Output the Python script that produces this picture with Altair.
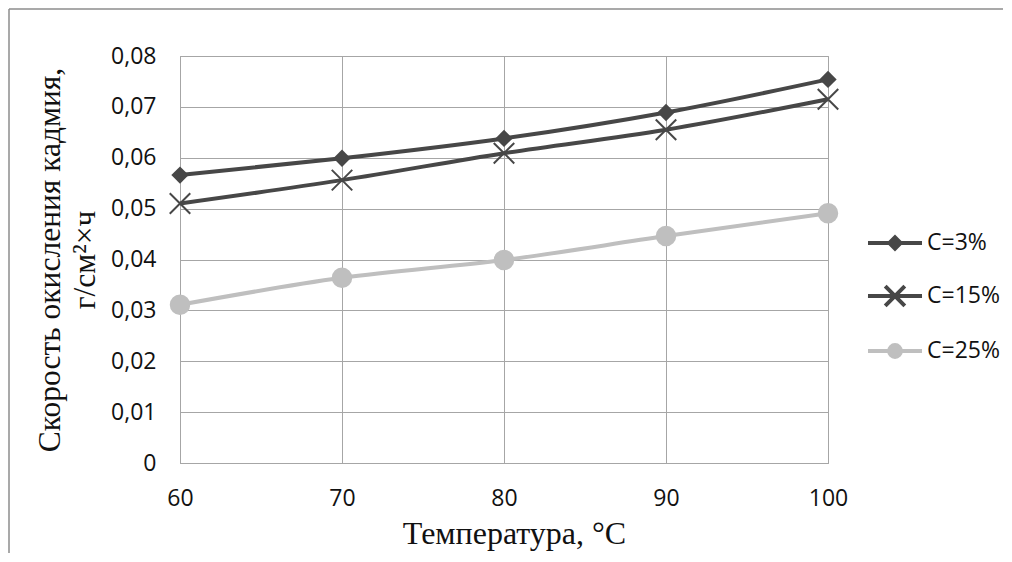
import altair as alt
import pandas as pd

temps = [60, 70, 80, 90, 100]
series_names = ["C=3%", "C=15%", "C=25%"]
rate_c3 = [0.0566, 0.0599, 0.0638, 0.0689, 0.0754]
rate_c15 = [0.0510, 0.0556, 0.0609, 0.0655, 0.0715]
rate_c25 = [0.0311, 0.0364, 0.0399, 0.0446, 0.0491]
x_ticks = [60, 70, 80, 90, 100]
y_ticks = [0, 0.01, 0.02, 0.03, 0.04, 0.05, 0.06, 0.07, 0.08]

series_colors = ["#474747", "#474747", "#bfbfbf"]
# legend symbols: line segment with a marker; markers are filled by concentric strokes
legend_paths = [
    "M-1.93,0L1.93,0M-0.4,0L0,-0.4L0.4,0L0,0.4ZM-0.15,0L0,-0.15L0.15,0L0,0.15ZM0,-0.35L0,0.35",
    "M-1.93,0L1.93,0M-0.7,-0.7L0.7,0.7M-0.7,0.7L0.7,-0.7",
    "M-1.93,0L1.93,0M0.42,0A0.42,0.42 0 1,1 -0.42,0A0.42,0.42 0 1,1 0.42,0ZM0.16,0A0.16,0.16 0 1,1 -0.16,0A0.16,0.16 0 1,1 0.16,0ZM0,-0.35L0,0.35",
]

rows = []
for name, vals in zip(series_names, [rate_c3, rate_c15, rate_c25]):
    for t, v in zip(temps, vals):
        rows.append({"T": t, "v": v, "series": name})
df = pd.DataFrame(rows)

X = alt.X(
    "T:Q",
    scale=alt.Scale(domain=[60, 100], nice=False),
    axis=alt.Axis(values=x_ticks, title="Температура, °C", labelFlush=False, titleX=334),
)
Y = alt.Y(
    "v:Q",
    scale=alt.Scale(domain=[0, 0.08], nice=False),
    axis=alt.Axis(
        values=y_ticks,
        title=["Скорость окисления кадмия,", "г/см²×ч"],
        labelExpr="datum.value == 0 ? '0' : replace(format(datum.value, '.2f'), '.', ',')",
        titleFontSize=31.5,
    ),
)

base = alt.Chart(df)

lines = base.mark_line(strokeWidth=4, interpolate="monotone").encode(
    x=X,
    y=Y,
    color=alt.Color("series:N", scale=alt.Scale(domain=series_names, range=series_colors), legend=None),
)

pts3 = base.transform_filter(alt.datum.series == "C=3%").mark_point(
    shape="diamond", filled=True, size=300, color="#474747", opacity=1
).encode(x=X, y=Y)

pts15 = base.transform_filter(alt.datum.series == "C=15%").mark_point(
    shape="M-1,-1L1,1M-1,1L1,-1", filled=False, size=420, strokeWidth=2, color="#474747", opacity=1
).encode(x=X, y=Y)

pts25 = base.transform_filter(alt.datum.series == "C=25%").mark_point(
    shape="circle", filled=True, size=420, color="#bfbfbf", opacity=1
).encode(x=X, y=Y)

# legend-only layer: no rows pass the filter, entries come from the explicit scale domain
leg = alt.Legend(title=None, orient="none", legendX=699, legendY=171)
legend_layer = base.transform_filter("datum.T > 1000").mark_point(
    filled=False, opacity=1, strokeWidth=4
).encode(
    x=X,
    y=Y,
    shape=alt.Shape("series:N", scale=alt.Scale(domain=series_names, range=legend_paths), legend=leg),
    color=alt.Color("series:N", scale=alt.Scale(domain=series_names, range=series_colors), legend=leg),
)

frame_src = alt.Data(values=[{"k": 1}])
frame_left = alt.Chart(frame_src).mark_rule(color="#8c8c8c", strokeWidth=1.5).encode(
    x=alt.value(-171), y=alt.value(-47), y2=alt.value(497)
)
frame_top = alt.Chart(frame_src).mark_rule(color="#8c8c8c", strokeWidth=1.5).encode(
    x=alt.value(-171), x2=alt.value(823), y=alt.value(-47)
)

chart = (
    alt.layer(frame_left, frame_top, lines, pts3, pts15, pts25, legend_layer)
    .resolve_scale(shape="independent", color="independent")
    .properties(width=648, height=407, padding=0, background="white")
    .configure_view(stroke="#a6a6a6", strokeWidth=1)
    .configure_axis(
        grid=True,
        gridColor="#a6a6a6",
        gridWidth=1,
        domainColor="#a6a6a6",
        domainWidth=1,
        ticks=False,
        tickSize=0,
        labelFont="Open Sans",
        labelFontSize=23,
        labelColor="#111111",
        titleFont="Liberation Serif",
        titleFontSize=32,
        titleFontWeight="normal",
        titleColor="#111111",
        titleLineHeight=35,
    )
    .configure_axisX(labelPadding=24, titlePadding=8)
    .configure_axisY(labelPadding=24, titlePadding=9)
    .configure_legend(
        symbolSize=784,
        symbolStrokeWidth=4,
        symbolOpacity=1,
        labelFont="Open Sans",
        labelFontSize=23,
        labelColor="#111111",
        labelOffset=16,
        rowPadding=21,
        padding=0,
    )
)

chart.save("out.html", embed_options={"renderer": "svg", "actions": False})
